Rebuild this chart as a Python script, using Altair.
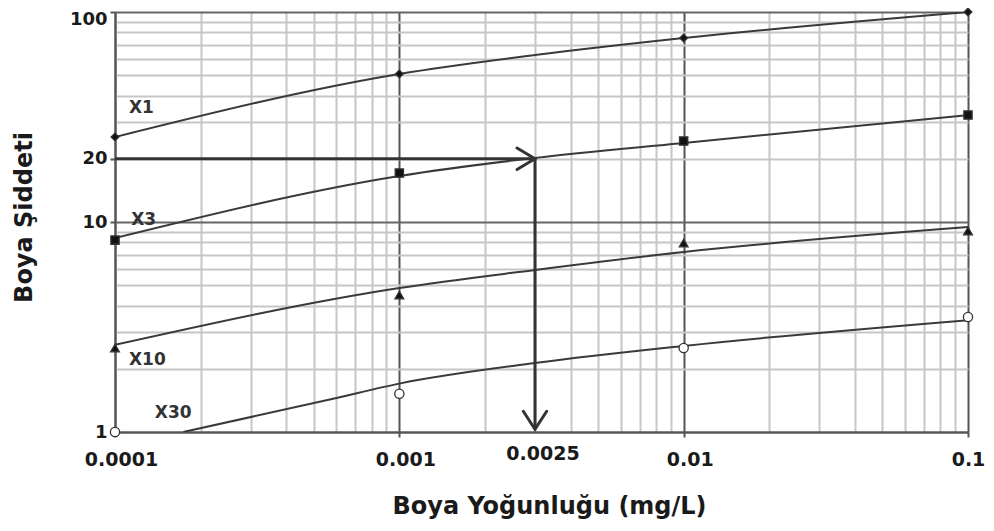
import altair as alt
import pandas as pd

# ---- data ----
series = ["X1", "X3", "X10", "X30"]

marker_x = [0.0001, 0.001, 0.01, 0.1]
x1_marker = [25.4, 50.7, 75.2, 100.0]
x3_marker = [8.2, 17.1, 24.3, 32.3]
x10_marker = [2.51, 4.49, 7.94, 9.06]
x30_marker = [1.0, 1.52, 2.51, 3.53]

curve_x = [0.0001, 0.001, 0.003, 0.01, 0.1]
x1_curve = [25.4, 50.7, 62.4, 75.2, 100.0]
x3_curve = [8.39, 16.56, 20.2, 23.8, 32.3]
x10_curve = [2.60, 4.85, 5.91, 7.20, 9.46]
x30_curve_x = [0.000174, 0.000585, 0.001, 0.003, 0.01, 0.1]
x30_curve = [1.0, 1.44, 1.70, 2.13, 2.57, 3.41]

label_text = ["X1", "X3", "X10", "X30"]
label_x = [0.000112, 0.000114, 0.000112, 0.000138]
label_y = [35.0, 10.2, 2.2, 1.225]

# reading example: 20 on the y axis -> 0.0025 on the x axis
read_y = 20
read_x = 0.003
read_x_text = "0.0025"
read_y_end = 1.03

grid_x = [0.0001, 0.0002, 0.0003, 0.0004, 0.0005, 0.0006, 0.0007, 0.0008, 0.0009,
          0.001, 0.002, 0.003, 0.004, 0.005, 0.006, 0.007, 0.008, 0.009,
          0.01, 0.02, 0.03, 0.04, 0.05, 0.06, 0.07, 0.08, 0.09, 0.1]
grid_y = [1, 2, 3, 4, 5, 6, 7, 8, 9, 10, 20, 30, 40, 50, 60, 70, 80, 90, 100]
tick_x = [0.0001, 0.001, 0.01, 0.1]
tick_y = [1, 10, 20, 100]
major_y = [1, 10, 100]

# ---- tables ----
rows = []
for s, ys in zip(series, [x1_curve, x3_curve, x10_curve]):
    for xv, yv in zip(curve_x, ys):
        rows.append({"s": s, "x": xv, "y": yv})
for xv, yv in zip(x30_curve_x, x30_curve):
    rows.append({"s": "X30", "x": xv, "y": yv})
curves = pd.DataFrame(rows)

rows = []
for s, ys in zip(series, [x1_marker, x3_marker, x10_marker, x30_marker]):
    for xv, yv in zip(marker_x, ys):
        rows.append({"s": s, "x": xv, "y": yv})
markers = pd.DataFrame(rows)

labels = pd.DataFrame({"t": label_text, "x": label_x, "y": label_y})

def arr(vals):
    return "[" + ",".join(repr(v) for v in vals) + "]"

x_test = "indexof(" + arr(tick_x) + ", datum.value) >= 0"
y_test = "indexof(" + arr(tick_y) + ", datum.value) >= 0"
y_major = "indexof(" + arr(major_y) + ", datum.value) >= 0"

FONT = "DejaVu Sans"
TXT = "#1a1a1a"

xaxis = alt.Axis(
    values=grid_x, format="~g", labelExpr=x_test + " ? datum.label : ''",
    labelOverlap=False, labelFlush=False, labelPadding=13,
    labelOffset={"condition": {"test": "datum.value == 0.1", "value": 0}, "value": 6},
    labelFont=FONT, labelFontSize=19, labelFontWeight="bold", labelColor=TXT,
    grid=True,
    gridColor={"condition": {"test": x_test, "value": "#555555"}, "value": "#c6c6c6"},
    gridWidth=2,
    tickSize=5, tickWidth=2, tickColor="#555555",
    tickOpacity={"condition": {"test": x_test, "value": 1}, "value": 0},
    domainColor="#555555", domainWidth=2,
    title="Boya Yoğunluğu (mg/L)", titleFont=FONT, titleFontSize=24,
    titleFontWeight="bold", titleColor=TXT,
    titleX=434, titleY=74, titleBaseline="middle",
)
yaxis = alt.Axis(
    values=grid_y, format="~g", labelExpr=y_test + " ? datum.label : ''",
    labelOverlap=False, labelFlush=False, labelPadding=3,
    labelOffset={"condition": {"test": "datum.value == 100", "value": 7}, "value": 0},
    labelFont=FONT, labelFontSize=18, labelFontWeight="bold", labelColor=TXT,
    grid=True,
    gridColor={"condition": {"test": y_major, "value": "#666666"}, "value": "#c6c6c6"},
    gridWidth=2,
    tickSize=5, tickWidth=2, tickColor="#555555",
    tickOpacity={"condition": {"test": y_test, "value": 1}, "value": 0},
    domainColor="#555555", domainWidth=2,
    title="Boya Şiddeti", titleFont=FONT, titleFontSize=24,
    titleFontWeight="bold", titleColor=TXT,
    titleX=-79, titleY=205, titleBaseline="bottom",
)

xs = alt.Scale(type="log", domain=[0.0001, 0.1], nice=False)
ys = alt.Scale(type="log", domain=[1, 100], nice=False)
X = alt.X("x:Q", scale=xs, axis=xaxis)
Y = alt.Y("y:Q", scale=ys, axis=yaxis)

line_layer = alt.Chart(curves).mark_line(
    interpolate="monotone", color="#3a3a3a", clip=True
).encode(x=X, y=Y, detail="s:N",
         strokeWidth=alt.StrokeWidth("s:N", scale=alt.Scale(domain=series, range=[2, 2, 2, 2.6]), legend=None))

marker_layer = alt.Chart(markers).mark_point(
    filled=True, stroke="#333333", strokeWidth=1.3, opacity=1
).encode(
    x=X, y=Y,
    shape=alt.Shape("s:N", scale=alt.Scale(domain=series, range=["diamond", "square", "triangle-up", "circle"]), legend=None),
    fill=alt.Fill("s:N", scale=alt.Scale(domain=series, range=["#111111", "#111111", "#111111", "#ffffff"]), legend=None),
    size=alt.Size("s:N", scale=alt.Scale(domain=series, range=[60, 85, 75, 64]), legend=None),
)

text_layer = alt.Chart(labels).mark_text(
    align="left", baseline="middle", font=FONT, fontWeight="bold",
    fontSize=17, color="#333333"
).encode(x=X, y=Y, text="t:N")

arrow_h = alt.Chart(pd.DataFrame({"x": [marker_x[0]], "x2": [read_x], "y": [read_y]})).mark_rule(
    color="#333333", strokeWidth=3
).encode(x=X, x2="x2:Q", y=Y)
arrow_v = alt.Chart(pd.DataFrame({"x": [read_x], "y": [read_y], "y2": [read_y_end]})).mark_rule(
    color="#333333", strokeWidth=3
).encode(x=X, y=Y, y2="y2:Q")
head_r = alt.Chart(pd.DataFrame({"x": [read_x], "y": [read_y]})).mark_point(
    shape="M -1 -0.6 L 0 0 L -1 0.6", filled=False, stroke="#333333", strokeWidth=3,
    size=1296, opacity=1, strokeCap="round", strokeJoin="miter"
).encode(x=X, y=Y)
head_d = alt.Chart(pd.DataFrame({"x": [read_x], "y": [read_y_end]})).mark_point(
    shape="M -0.65 -1 L 0 0 L 0.65 -1", filled=False, stroke="#333333", strokeWidth=3,
    size=1296, opacity=1, strokeCap="round", strokeJoin="miter"
).encode(x=X, y=Y)
read_label = alt.Chart(pd.DataFrame({"x": [read_x], "y": [1.0], "t": [read_x_text]})).mark_text(
    align="center", baseline="middle", dx=8, dy=22, font=FONT, fontWeight="bold",
    fontSize=19, color=TXT
).encode(x=X, y=Y, text="t:N")

chart = alt.layer(
    line_layer, arrow_h, arrow_v, head_r, head_d, marker_layer, text_layer, read_label
).properties(
    width=853, height=420,
    autosize=alt.AutoSizeParams(type="none"),
    padding={"left": 107, "top": 4, "right": 18, "bottom": 90},
).configure_view(stroke=None).configure(background="white")

chart.save("out.html", embed_options={"renderer": "svg", "actions": False})
